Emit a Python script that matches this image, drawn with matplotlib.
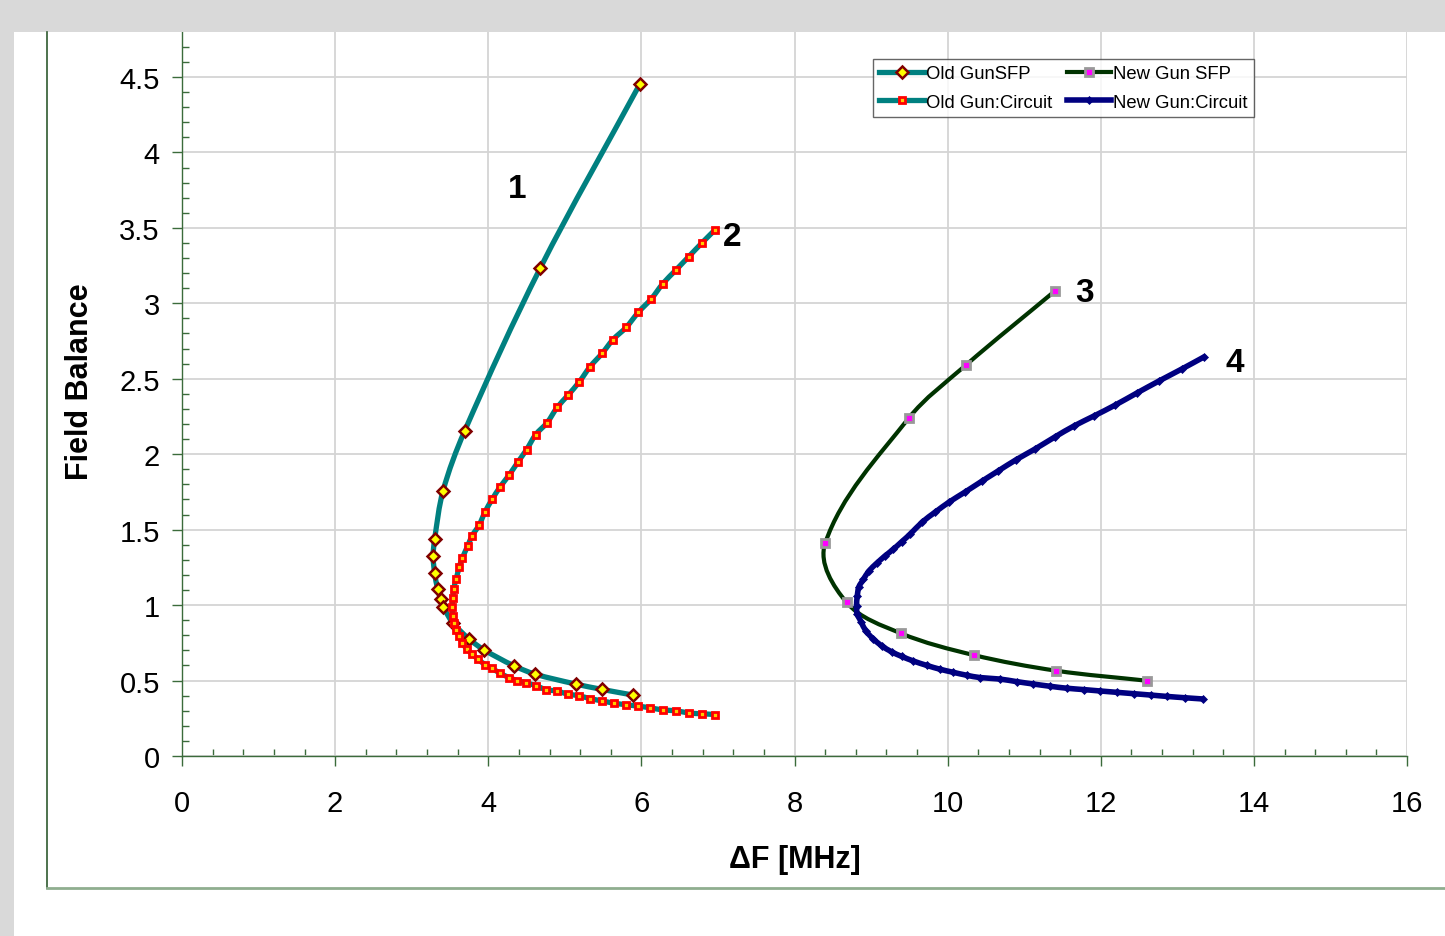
import numpy as np
import matplotlib
matplotlib.use("Agg")
import matplotlib.pyplot as plt
from matplotlib.path import Path
from matplotlib.patches import PathPatch, Rectangle
from matplotlib.lines import Line2D
from matplotlib.ticker import MultipleLocator

# ---------------------------
# DATOS
# ---------------------------

# curva 1: Old Gun SFP
old_sfp_x = [5.98, 4.68, 3.69, 3.41, 3.30, 3.28, 3.30, 3.34, 3.38, 3.41,
             3.54, 3.75, 3.94, 4.33, 4.61, 5.14, 5.48, 5.89]
old_sfp_y = [4.453, 3.234, 2.152, 1.758, 1.438, 1.323, 1.211, 1.105, 1.038, 0.990,
             0.881, 0.775, 0.705, 0.599, 0.543, 0.477, 0.442, 0.404]

# curva 2: Old Gun Circuit
old_circ_x = [6.96, 6.79, 6.62, 6.45, 6.28, 6.13, 5.96, 5.80, 5.63, 5.49,
              5.33, 5.19, 5.04, 4.90, 4.77, 4.62, 4.50, 4.39, 4.27, 4.15,
              4.05, 3.96, 3.88, 3.79, 3.73, 3.66, 3.62, 3.58, 3.55, 3.54,
              3.53, 3.54, 3.55, 3.58, 3.62, 3.66, 3.72, 3.79, 3.87, 3.96,
              4.05, 4.15, 4.27, 4.38, 4.49, 4.63, 4.75, 4.90, 5.04, 5.18,
              5.33, 5.49, 5.64, 5.80, 5.96, 6.11, 6.28, 6.45, 6.62, 6.79, 6.96]
old_circ_y = [3.486, 3.40, 3.31, 3.22, 3.13, 3.03, 2.94, 2.84, 2.76, 2.67,
              2.58, 2.48, 2.39, 2.31, 2.21, 2.13, 2.03, 1.95, 1.86, 1.78,
              1.70, 1.62, 1.53, 1.46, 1.39, 1.31, 1.25, 1.17, 1.11, 1.05,
              0.99, 0.93, 0.88, 0.835, 0.795, 0.75, 0.71, 0.675, 0.64, 0.605,
              0.58, 0.55, 0.52, 0.50, 0.485, 0.465, 0.44, 0.43, 0.41, 0.40,
              0.38, 0.365, 0.35, 0.34, 0.33, 0.32, 0.305, 0.30, 0.285, 0.28, 0.275]

# curva 3: New Gun SFP
new_sfp_x = [11.40, 10.24, 9.49, 8.40, 8.68, 9.39, 10.34, 11.42, 12.60]
new_sfp_y = [3.081, 2.591, 2.238, 1.409, 1.018, 0.813, 0.669, 0.565, 0.499]

# curva 4: New Gun Circuit
new_circ_x = [13.35, 13.06, 12.76, 12.47, 12.19, 11.91, 11.65, 11.40, 11.14, 10.89,
              10.66, 10.45, 10.23, 10.02, 9.84, 9.67, 9.51, 9.40, 9.29, 9.18,
              9.08, 8.97, 8.90, 8.84, 8.82, 8.81, 8.82, 8.87, 8.93, 9.03,
              9.14, 9.27, 9.40, 9.55, 9.73, 9.90, 10.07, 10.25, 10.42, 10.68,
              10.90, 11.12, 11.34, 11.56, 11.78, 11.99, 12.21, 12.43, 12.65, 12.86,
              13.10, 13.33]
new_circ_y = [2.645, 2.565, 2.485, 2.405, 2.326, 2.253, 2.187, 2.114, 2.034, 1.962,
              1.889, 1.822, 1.750, 1.683, 1.617, 1.551, 1.47, 1.42, 1.37, 1.325,
              1.28, 1.225, 1.17, 1.12, 1.06, 0.995, 0.94, 0.89, 0.83, 0.775,
              0.73, 0.69, 0.66, 0.63, 0.60, 0.575, 0.555, 0.535, 0.52, 0.510,
              0.493, 0.477, 0.462, 0.449, 0.44, 0.431, 0.422, 0.413, 0.404, 0.395,
              0.386, 0.378]

# etiquetas numericas de las curvas
curve_labels = ["1", "2", "3", "4"]
curve_label_x = [4.38, 7.18, 11.79, 13.75]
curve_label_y = [3.76, 3.44, 3.07, 2.61]

FONT = "Liberation Sans"
AXIS_GREEN = "#3b6b3b"

XMAX = 16
YMAX = 4.798

# ---------------------------
# FUNCIONES
# ---------------------------

def smooth_path(x, y, sx, sy):
    # linea suavizada tipo Excel, calculada en espacio de pantalla (escala sx, sy)
    pts = np.column_stack([np.asarray(x) * sx, np.asarray(y) * sy]).astype(float)
    n = len(pts)
    tang = []
    for i in range(n):
        a = pts[max(i - 1, 0)]
        b = pts[min(i + 1, n - 1)]
        d = b - a
        tang.append(d / np.hypot(*d))
    verts = [pts[0]]
    codes = [Path.MOVETO]
    for i in range(n - 1):
        p1 = pts[i]
        p2 = pts[i + 1]
        L = np.hypot(*(p2 - p1)) / 3
        verts += [p1 + tang[i] * L, p2 - tang[i + 1] * L, p2]
        codes += [Path.CURVE4] * 3
    verts = np.array(verts) / np.array([sx, sy])
    return Path(verts, codes)


def serie(ax, x, y, color, lw, mk, z):
    sx = 1225 / XMAX
    sy = 724 / YMAX
    ax.add_patch(PathPatch(smooth_path(x, y, sx, sy), fill=False, edgecolor=color,
                           lw=lw, capstyle="round", joinstyle="round", zorder=z))
    ax.plot(x, y, ls="none", zorder=z + 0.5, **mk)


# ---------------------------
# FIGURA
# ---------------------------

fig = plt.figure(figsize=(14.45, 9.37), dpi=100)
fig.patch.set_facecolor("white")

# marco de fondo (textura gris arriba e izquierda)
fig.patches.append(Rectangle((0, 1 - 33 / 937), 1, 33 / 937, transform=fig.transFigure,
                             facecolor="#d9d9d9", edgecolor="none", zorder=0))
fig.patches.append(Rectangle((0, 0), 14 / 1445, 1, transform=fig.transFigure,
                             facecolor="#d9d9d9", edgecolor="none", zorder=0))
# borde del area del grafico
fig.add_artist(Line2D([47 / 1445, 47 / 1445], [1 - 33 / 937, 1 - 889 / 937],
                      transform=fig.transFigure, color="#2f5a2f", lw=1.2))
fig.add_artist(Line2D([47 / 1445, 1], [1 - 889 / 937, 1 - 889 / 937],
                      transform=fig.transFigure, color="#8fae8f", lw=2.0))

ax = fig.add_axes([182 / 1445, 1 - 757 / 937, (1407 - 182) / 1445, (757 - 33) / 937])
ax.set_xlim(0, XMAX)
ax.set_ylim(0, YMAX)

ax.xaxis.set_major_locator(MultipleLocator(2))
ax.xaxis.set_minor_locator(MultipleLocator(0.4))
ax.yaxis.set_major_locator(MultipleLocator(0.5))
ax.yaxis.set_minor_locator(MultipleLocator(0.1))
ax.set_yticks(np.arange(0, 4.51, 0.5))
ax.set_yticklabels(["0", "0.5", "1", "1.5", "2", "2.5", "3", "3.5", "4", "4.5"])

ax.grid(which="major", color="#d4d4d4", lw=1.3)
ax.set_axisbelow(True)
for s in ["top", "right"]:
    ax.spines[s].set_visible(False)
for s in ["left", "bottom"]:
    ax.spines[s].set_color(AXIS_GREEN)
    ax.spines[s].set_linewidth(1.0)

ax.tick_params(which="major", direction="out", length=7, width=1, color=AXIS_GREEN,
               labelsize=21, pad=9)
ax.tick_params(axis="x", which="major", pad=17)
ax.tick_params(which="minor", direction="in", length=5, width=1, color=AXIS_GREEN)
for lab in ax.get_xticklabels() + ax.get_yticklabels():
    lab.set_fontfamily(FONT)

ax.set_xlabel("ΔF [MHz]", fontsize=22, fontweight="bold", family=FONT, labelpad=19)
ax.set_ylabel("Field Balance", fontsize=22, fontweight="bold", family=FONT)
ax.yaxis.set_label_coords(-0.071, 0.519)

# estilos de marcadores
mk_old_sfp = dict(marker="D", ms=5.8, mfc="#ffff00", mec="#800000", mew=1.8)
mk_old_circ = dict(marker="s", ms=4.6, mfc="#ffcc00", mec="#ff0000", mew=2.0)
mk_new_sfp = dict(marker="s", ms=6.0, mfc="#ff00ff", mec="#999999", mew=2.0)
mk_new_circ = dict(marker="D", ms=4.2, mfc="#000080", mec="#000080", mew=0.5)

serie(ax, old_sfp_x, old_sfp_y, "#008080", 3.8, mk_old_sfp, 3)
serie(ax, new_sfp_x, new_sfp_y, "#003300", 3.0, mk_new_sfp, 4)
serie(ax, old_circ_x, old_circ_y, "#008080", 3.8, mk_old_circ, 5)
serie(ax, new_circ_x, new_circ_y, "#000080", 4.0, mk_new_circ, 6)

for lab, x, y in zip(curve_labels, curve_label_x, curve_label_y):
    ax.text(x, y, lab, fontsize=24, fontweight="bold", family=FONT,
            ha="center", va="center")

# leyenda
handles = [
    Line2D([], [], color="#008080", lw=3.8, **mk_old_sfp),
    Line2D([], [], color="#008080", lw=3.8, **mk_old_circ),
    Line2D([], [], color="#003300", lw=3.0, **mk_new_sfp),
    Line2D([], [], color="#000080", lw=4.0, **mk_new_circ),
]
labels = ["Old GunSFP", "Old Gun:Circuit", "New Gun SFP", "New Gun:Circuit"]
leg = ax.legend(handles, labels, ncol=2, loc="upper left",
                bbox_to_anchor=(873 / 1445, 1 - 60 / 937), bbox_transform=fig.transFigure,
                prop={"family": FONT, "size": 13.3}, frameon=True, fancybox=False,
                edgecolor="#404040", borderpad=0.35, labelspacing=0.6,
                handlelength=2.4, handletextpad=0.1, columnspacing=0.8,
                borderaxespad=0)
leg.get_frame().set_linewidth(1.0)

fig.savefig("out.png", dpi=100)
